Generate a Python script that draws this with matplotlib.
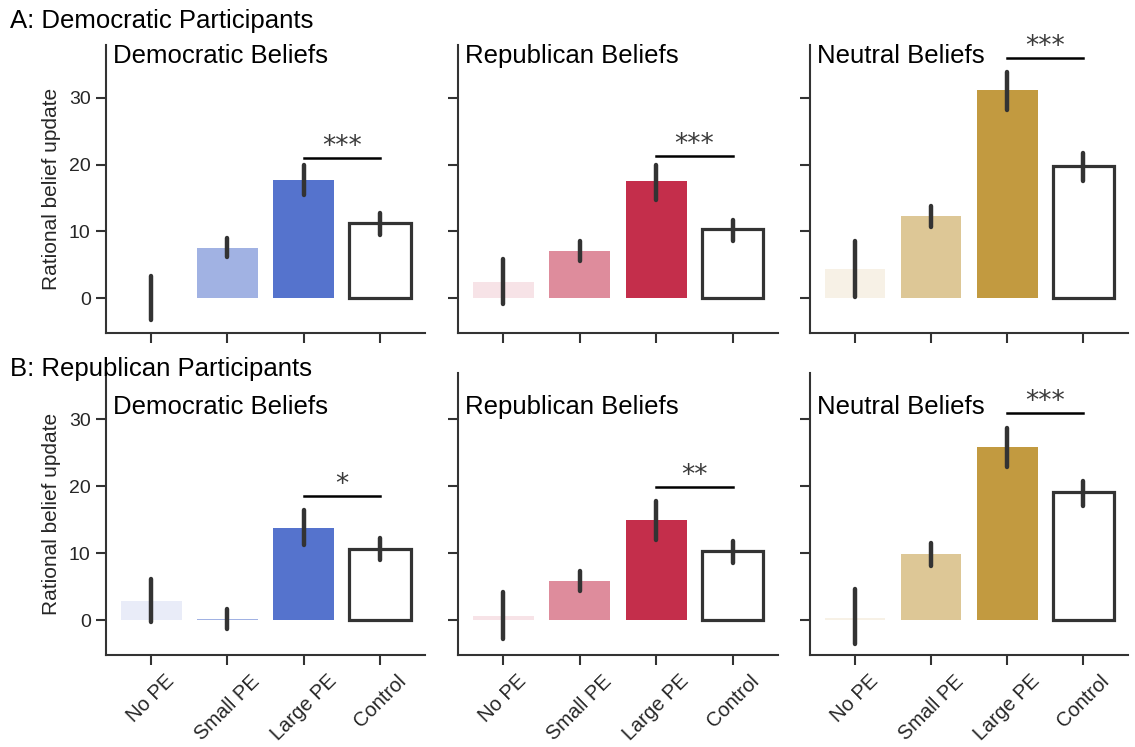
import matplotlib
matplotlib.use('Agg')
import matplotlib.pyplot as plt
import matplotlib.transforms as mtransforms
from matplotlib.colors import to_rgba

plt.rcParams['font.family'] = ['Liberation Sans', 'DejaVu Sans']

conditions = ['No PE', 'Small PE', 'Large PE', 'Control']
belief_titles = ['Democratic Beliefs', 'Republican Beliefs', 'Neutral Beliefs']
row_titles = ['A: Democratic Participants', 'B: Republican Participants']

# A: democratic participants (dem / rep / neutral beliefs)
mean_a = [[0.0, 7.5, 17.7, 11.3], [2.5, 7.1, 17.5, 10.35], [4.4, 12.3, 31.1, 19.8]]
low_a = [[-3.2, 6.2, 15.5, 9.4], [-0.9, 5.65, 14.75, 8.6], [0.25, 10.6, 28.2, 17.6]]
high_a = [[3.4, 9.0, 19.9, 12.8], [5.85, 8.6, 20.0, 11.75], [8.5, 13.85, 33.9, 21.8]]
sig_y_a = [21.0, 21.25, 35.9]
sig_a = ['***', '***', '***']

# B: republican participants
mean_b = [[2.85, 0.1, 13.8, 10.66], [0.6, 5.9, 14.9, 10.3], [0.35, 9.8, 25.9, 19.1]]
low_b = [[-0.3, -1.35, 11.2, 9.0], [-2.8, 4.4, 11.9, 8.6], [-3.5, 8.1, 22.8, 17.1]]
high_b = [[6.1, 1.6, 16.45, 12.2], [4.2, 7.4, 17.8, 11.8], [4.7, 11.5, 28.75, 20.8]]
sig_y_b = [18.5, 19.9, 30.9]
sig_b = ['*', '**', '***']

base_colors = ['#5573CD', '#C42E4B', '#C29A40']
shade = [0.13, 0.55, 1.0]
dark = '#333333'

fig = plt.figure(figsize=(11.35, 7.47), dpi=100)

lefts = [0.0934, 0.4035, 0.7137]
widths = [0.2811, 0.2819, 0.2802]
rows = [
    dict(bottom=0.5542, height=0.3855, ylim=(-5.2, 37.9), title_y=35.2,
         mean=mean_a, low=low_a, high=high_a, sig_y=sig_y_a, sig=sig_a),
    dict(bottom=0.1232, height=0.3775, ylim=(-5.2, 36.9), title_y=30.8,
         mean=mean_b, low=low_b, high=high_b, sig_y=sig_y_b, sig=sig_b),
]

x = list(range(len(conditions)))

for r, row in enumerate(rows):
    for c in range(3):
        ax = fig.add_axes([lefts[c], row['bottom'], widths[c], row['height']])
        face = [to_rgba(base_colors[c], a) for a in shade] + ['white']
        edge = ['none', 'none', 'none', dark]
        lw = [0, 0, 0, 2.3]
        ax.bar(x, row['mean'][c], width=0.8, color=face, edgecolor=edge, linewidth=lw)
        ax.vlines(x, row['low'][c], row['high'][c], color=dark, linewidth=3.2,
                  capstyle='round', zorder=3)

        # significance bar between Large PE and Control
        y = row['sig_y'][c]
        ax.plot([2, 3], [y, y], color='black', linewidth=1.8, clip_on=False)
        ax.annotate(row['sig'][c], (2.5, y), xytext=(0, 3), textcoords='offset points',
                    ha='center', va='baseline', fontsize=19, color='#3a3a3a',
                    family='DejaVu Sans', annotation_clip=False)

        trans = mtransforms.blended_transform_factory(ax.transAxes, ax.transData)
        ax.text(0.022, row['title_y'], belief_titles[c], transform=trans,
                fontsize=18.5, color='black', va='baseline', ha='left')

        ax.set_xlim(-0.59, 3.59)
        ax.set_ylim(*row['ylim'])
        ax.set_yticks([0, 10, 20, 30])
        ax.set_xticks(x)
        for side in ['top', 'right']:
            ax.spines[side].set_visible(False)
        for side in ['left', 'bottom']:
            ax.spines[side].set_linewidth(1.5)
            ax.spines[side].set_color(dark)
        ax.tick_params(length=7, width=1.5, color=dark, labelsize=14,
                       labelcolor='#262626', pad=4)
        ax.tick_params(axis='x', pad=5)
        if c == 0:
            ax.set_ylabel('Rational belief update', fontsize=15, color='#262626',
                          labelpad=6)
        else:
            ax.tick_params(labelleft=False)
        if r == 1:
            ax.set_xticklabels(conditions, rotation=45, ha='center', fontsize=14.5)
        else:
            ax.tick_params(labelbottom=False)

fig.text(10 / 1135, 1 - 28 / 747, row_titles[0], fontsize=18.5, va='baseline')
fig.text(10 / 1135, 1 - 376 / 747, row_titles[1], fontsize=18.5, va='baseline')

fig.savefig('out.png', dpi=100)
